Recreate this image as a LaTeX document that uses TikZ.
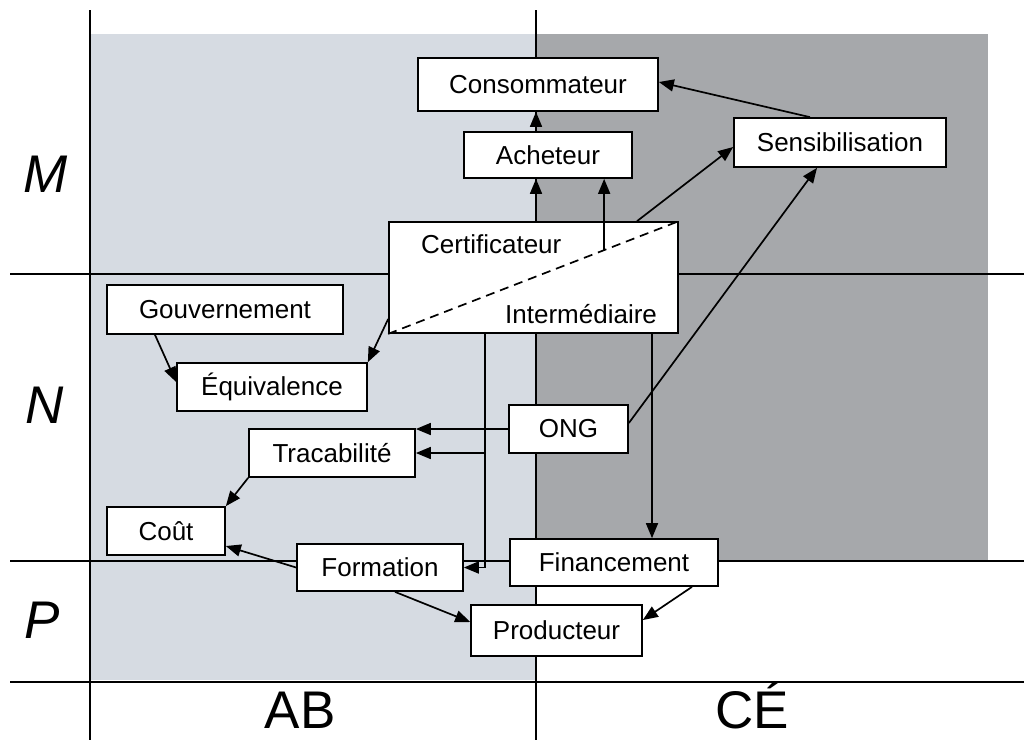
\documentclass[tikz,border=0pt]{standalone}
\usepackage{fontspec}
\setmainfont{Liberation Sans}
\usetikzlibrary{arrows.meta,calc}
\definecolor{zoneAB}{RGB}{214,219,226}
\definecolor{zoneCE}{RGB}{166,168,171}
\begin{document}
\begin{tikzpicture}[x=1pt,y=-1pt,
  box/.style={draw=black,line width=1.7pt,fill=white,inner sep=0pt,
    font=\fontsize{26}{28}\selectfont},
  arr/.style={line width=1.7pt,-{Triangle[length=15pt,width=12pt]}},
  divider/.style={line width=1.6pt},
  axislabel/.style={font=\fontsize{53}{56}\selectfont,inner sep=0pt}]
\useasboundingbox (0,0) rectangle (1024,740);
\fill[white] (0,0) rectangle (1024,740);
% shaded zones
\fill[zoneAB] (90,34) rectangle (536,680);
\fill[zoneCE] (536,34) rectangle (988,560);
% grid lines
\draw[divider] (90,10) -- (90,740);
\draw[divider] (536,10) -- (536,740);
\draw[divider] (10,274) -- (1024,274);
\draw[divider] (10,561) -- (1024,561);
\draw[divider] (10,682) -- (1024,682);
% axis labels
\node[axislabel] (lM) at (46,174) {\itshape M};
\node[axislabel] (lN) at (45,405) {\itshape N};
\node[axislabel] (lP) at (42,620) {\itshape P};
\node[axislabel,anchor=base] (lAB) at (300,728) {AB};
\node[axislabel,anchor=base] (lCE) at (752,728) {CÉ};
% boxes
\node[box,minimum width=240pt,minimum height=53pt] (cons) at (538,84.5) {Consommateur};
\node[box,minimum width=168pt,minimum height=46pt] (ach) at (548,155) {Acheteur};
\node[box,minimum width=212pt,minimum height=49pt] (sens) at (840,142.5) {Sensibilisation};
\node[box,minimum width=289pt,minimum height=111pt] (cert) at (533.5,277.5) {};
\node[box,minimum width=236pt,minimum height=49pt] (gouv) at (225,309.5) {Gouvernement};
\node[box,minimum width=190pt,minimum height=48pt] (equiv) at (272,387) {Équivalence};
\node[box,minimum width=119pt,minimum height=48pt] (ong) at (568.5,429) {ONG};
\node[box,minimum width=166pt,minimum height=48pt] (trac) at (332,453) {Tracabilité};
\node[box,minimum width=118pt,minimum height=48pt] (cout) at (166,531) {Coût};
\node[box,minimum width=166pt,minimum height=47pt] (form) at (380,567.5) {Formation};
\node[box,minimum width=208pt,minimum height=47pt] (fin) at (614,562.5) {Financement};
\node[box,minimum width=171pt,minimum height=51pt] (prod) at (556.5,630.5) {Producteur};
% split certifier / intermediary box
\draw[line width=1.7pt,dash pattern=on 9pt off 6pt] (cert.south west) -- (cert.north east);
\node[font=\fontsize{26}{28}\selectfont,anchor=base west,inner sep=0pt] (certtxt) at (421,253) {Certificateur};
\node[font=\fontsize{26}{28}\selectfont,anchor=base west,inner sep=0pt] (intertxt) at (505,323) {Intermédiaire};
\coordinate (split) at ($(cert.south west)!0.743!(cert.north east)$);
% connectors
\draw[arr] (ach.north -| 536,0) -- (cons.south -| 536,0);
\draw[arr] (cert.north -| 536,0) -- (ach.south -| 536,0);
\draw[arr] (split) -- (split |- ach.south);
\draw[arr] (cert.north -| 637,0) -- (sens.west |- 0,147);
\draw[arr] (sens.north -| 810,0) -- (cons.east |- 0,82);
\draw[arr] (ong.east |- 0,423) -- (sens.south -| 817,0);
\draw[arr] (cert.west |- 0,319) -- (equiv.north east);
\draw[arr] (gouv.south -| 155,0) -- (equiv.west |- 0,382);
\draw[arr] (ong.west) -- (ong.west -| trac.east);
\draw[line width=1.7pt] (cert.south -| 485,0) -- (form.east -| 485,0);
\draw[arr] (form.east -| 485,0) -- (form.east);
\draw[arr] (trac.east -| 485,0) -- (trac.east);
\draw[arr] (cert.south -| 652,0) -- (fin.north -| 652,0);
\draw[arr] (trac.south west) -- (cout.north east);
\draw[arr] (form.west) -- (cout.east |- 0,546);
\draw[arr] (form.south -| 395,0) -- (prod.west |- 0,622);
\draw[arr] (fin.south -| 692,0) -- (prod.east |- 0,620);
\end{tikzpicture}
\end{document}
